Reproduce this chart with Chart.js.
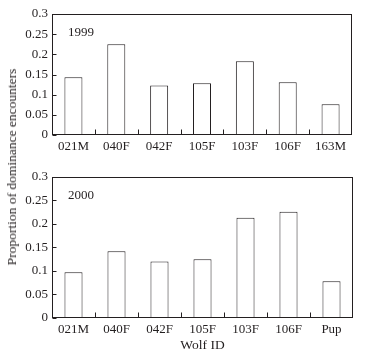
<!DOCTYPE html>
<html>
<head>
<meta charset="utf-8">
<script src="https://cdn.jsdelivr.net/npm/chart.js@4.4.0/dist/chart.umd.min.js"></script>
<style>
  body { margin: 0; background: #fff; }
  #wrap { position: relative; width: 365px; height: 354px; font-family: "Liberation Serif", serif; }
  .panel { position: absolute; left: 0; width: 365px; }
  #yTitle {
    position: absolute; left: 12px; top: 167px;
    transform: translate(-50%, -50%) rotate(-90deg);
    white-space: nowrap; font-size: 13.5px; color: #231f20;
  }
</style>
</head>
<body>
<div id="wrap">
  <div class="panel" style="top:0;height:170px"><canvas id="chart1999"></canvas></div>
  <div class="panel" style="top:165px;height:189px"><canvas id="chart2000"></canvas></div>
  <div id="yTitle">Proportion of dominance encounters</div>
</div>
<script>
// data
const wolves1999 = ['021M', '040F', '042F', '105F', '103F', '106F', '163M'];
const values1999 = [0.143, 0.225, 0.123, 0.128, 0.183, 0.131, 0.076];
const wolves2000 = ['021M', '040F', '042F', '105F', '103F', '106F', 'Pup'];
const values2000 = [0.097, 0.142, 0.120, 0.125, 0.213, 0.226, 0.078];
const yTicks = [0, 0.05, 0.1, 0.15, 0.2, 0.25, 0.3];

const INK = '#231f20';
const FONT = { family: '"Liberation Serif", serif', size: 13 };
const TITLE_FONT = { family: '"Liberation Serif", serif', size: 13.5 };

// box around plot area + inward tick marks + year label
const framePlugin = {
    id: 'frame',
    afterDraw(chart, args, opts) {
        const ctx = chart.ctx;
        const a = chart.chartArea;
        const xs = chart.scales.x, ys = chart.scales.y;
        ctx.save();
        ctx.strokeStyle = INK;
        ctx.lineWidth = 1;
        const L = Math.round(a.left) + 0.5, R = Math.round(a.right) - 0.5;
        const T = Math.round(a.top) + 0.5, B = Math.round(a.bottom) - 0.5;
        ctx.strokeRect(L, T, R - L, B - T);
        ctx.beginPath();
        ys.ticks.forEach(t => {
            const y = Math.round(ys.getPixelForValue(t.value)) + 0.5;
            ctx.moveTo(L, y); ctx.lineTo(L + 4, y);
        });
        for (let i = 1; i < xs.ticks.length; i++) {
            const x = Math.round((xs.getPixelForValue(i - 1) + xs.getPixelForValue(i)) / 2) + 0.5;
            ctx.moveTo(x, B); ctx.lineTo(x, B - 5);
        }
        ctx.stroke();
        ctx.fillStyle = INK;
        ctx.font = FONT.size + 'px ' + FONT.family;
        ctx.textBaseline = 'middle';
        ctx.fillText(opts.label, a.left + 16, a.top + 19);
        ctx.restore();
    }
};

function makeChart(id, labels, values, year, pad, xHeight, withTitle) {
    return new Chart(document.getElementById(id), {
        type: 'bar',
        data: {
            labels: labels,
            datasets: [{
                data: values,
                backgroundColor: '#ffffff',
                borderColor: INK,
                borderWidth: 1,
                barPercentage: 0.42,
                categoryPercentage: 1
            }]
        },
        options: {
            responsive: true,
            maintainAspectRatio: false,
            devicePixelRatio: 1,
            animation: false,
            layout: { padding: pad },
            plugins: {
                legend: { display: false },
                tooltip: { enabled: false },
                frame: { label: year }
            },
            scales: {
                x: {
                    grid: { display: false, drawTicks: false },
                    border: { display: false },
                    ticks: { color: INK, font: FONT, padding: 4, maxRotation: 0 },
                    title: { display: withTitle, text: 'Wolf ID', color: INK, font: TITLE_FONT, padding: { top: 0, bottom: 0 } },
                    afterFit: s => { s.height = xHeight; }
                },
                y: {
                    min: 0,
                    max: 0.3,
                    grid: { display: false, drawTicks: false },
                    border: { display: false },
                    afterBuildTicks: s => { s.ticks = yTicks.map(v => ({ value: v })); },
                    ticks: {
                        color: INK, font: FONT, padding: 4,
                        callback: v => String(parseFloat(v.toFixed(2)))
                    },
                    afterFit: s => { s.width = 52; }
                }
            }
        },
        plugins: [framePlugin]
    });
}

makeChart('chart1999', wolves1999, values1999, '1999', { top: 14, right: 13, left: 0, bottom: 0 }, 35, false);
makeChart('chart2000', wolves2000, values2000, '2000', { top: 11, right: 12, left: 0, bottom: 0 }, 36, true);
</script>
</body>
</html>
